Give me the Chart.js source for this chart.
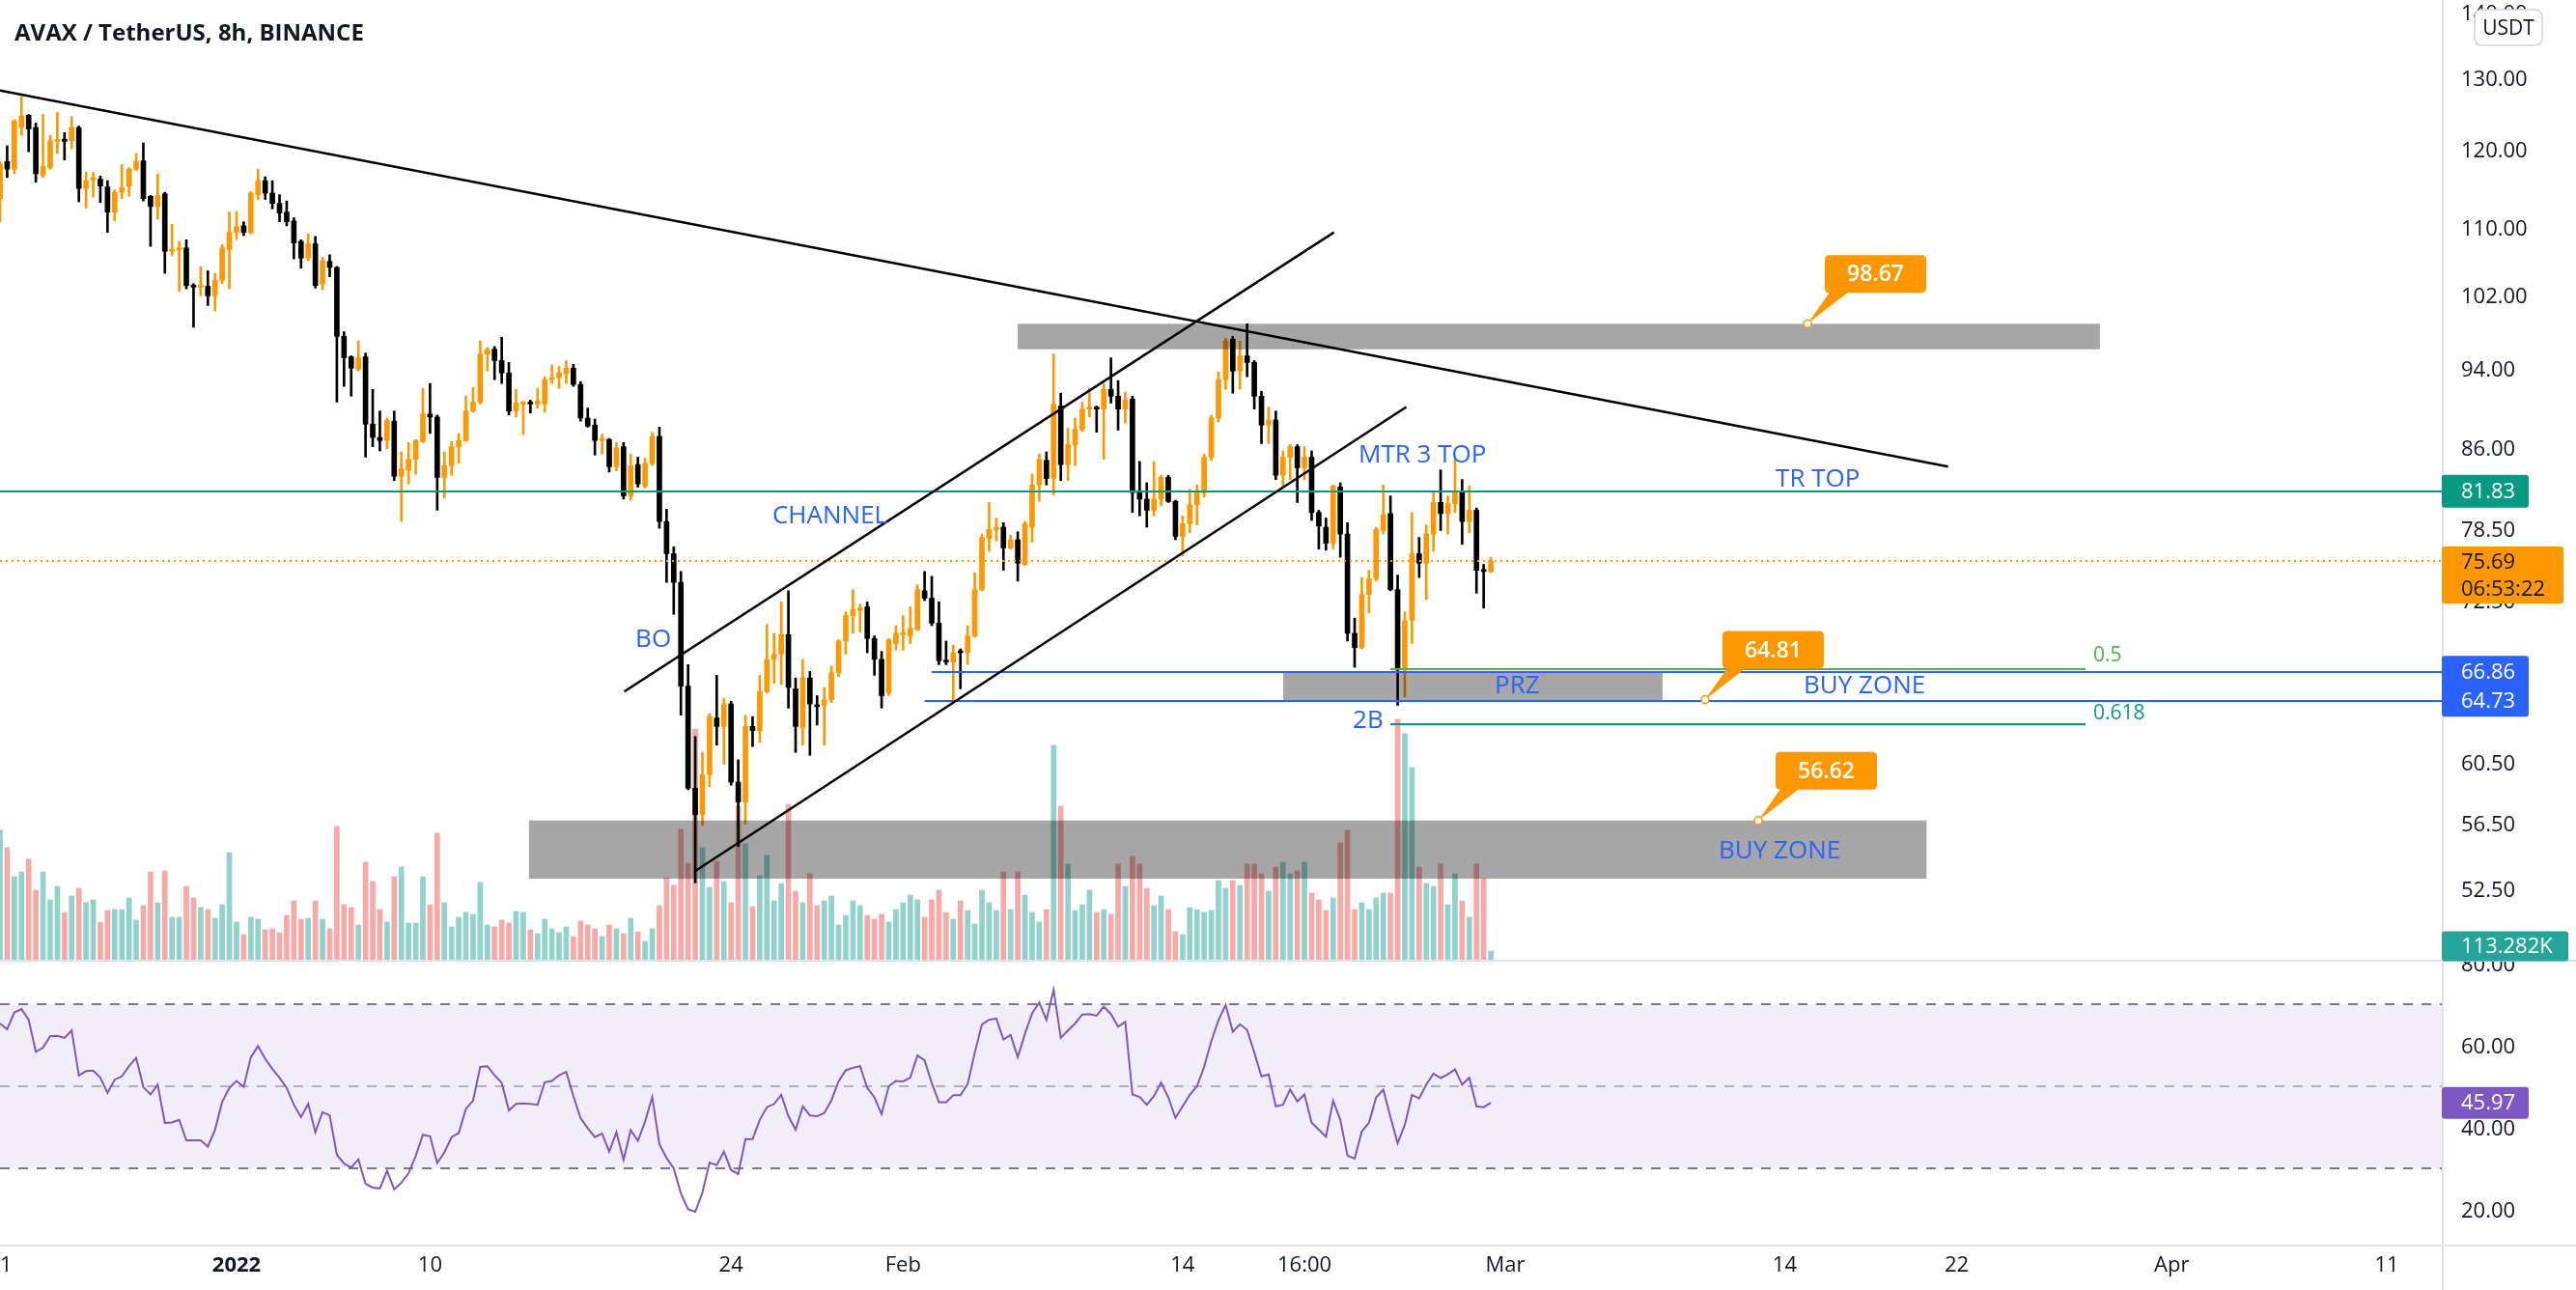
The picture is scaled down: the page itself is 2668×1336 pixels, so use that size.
<!DOCTYPE html>
<html>
<head>
<meta charset="utf-8">
<script src="https://cdn.jsdelivr.net/npm/chart.js@4.4.1/dist/chart.umd.min.js"></script>
<style>
html, body { margin: 0; padding: 0; background: #ffffff; }
canvas { display: block; }
</style>
</head>
<body>
<canvas id="chart" width="2668" height="1336"></canvas>
<script>
// AVAX/USDT 8h candles, first candle 21 Dec 2021 00:00 (x axis in days from 1 Jan 2022)
var firstCandleDay = -11;

var candleOpen = [
  113.4,118.3,117.3,122.9,124.6,122.9,116.5,117.5,121.0,121.3,
  121.1,122.9,114.8,115.9,116.0,115.0,111.8,114.3,115.1,117.3,
  118.4,113.8,112.5,114.1,107.0,107.2,107.4,103.0,102.8,102.9,
  101.8,103.6,107.2,109.3,110.1,109.3,114.0,115.8,114.2,112.9,
  111.8,110.7,108.2,106.2,107.9,103.2,105.8,105.1,97.3,95.1,
  93.8,95.1,88.2,86.9,86.6,88.5,83.2,83.8,84.8,86.5,
  89.2,88.9,83.1,84.2,86.0,86.6,89.5,90.4,95.4,95.9,
  94.7,93.4,89.5,90.2,90.4,90.2,90.2,92.7,92.9,93.3,
  93.9,92.2,88.8,88.1,86.6,86.7,84.1,86.0,81.4,84.3,
  82.3,84.4,87.0,79.1,76.3,73.9,65.8,58.7,57.0,59.6,
  63.5,62.9,64.5,59.1,57.8,62.9,62.6,65.4,67.8,68.2,
  69.7,65.6,62.8,66.4,64.4,64.4,64.8,66.8,69.2,71.2,
  71.6,71.9,69.4,67.8,65.3,69.0,69.7,69.6,70.1,73.2,
  72.6,70.6,67.7,67.6,68.4,68.3,69.6,73.3,77.6,78.4,
  78.6,76.8,77.5,75.4,78.6,82.4,84.7,83.0,90.0,84.3,
  86.2,87.7,89.7,89.9,89.7,91.7,91.0,89.7,90.7,81.7,
  81.1,80.1,81.1,83.1,80.9,77.8,78.9,80.6,81.7,85.0,
  88.8,92.7,97.0,93.6,95.2,94.5,91.0,88.1,88.6,83.3,
  85.0,86.0,84.0,85.0,79.9,78.6,77.2,82.2,78.0,69.8,
  68.7,72.9,74.2,78.3,79.8,73.3,67.0,70.8,76.3,75.5,
  78.0,80.8,79.8,80.7,81.7,79.1,80.1,74.9,74.8
];
var candleHigh = [
  118.3,120.4,124.0,127.2,124.7,123.5,124.7,121.8,125.0,122.2,
  124.4,123.1,116.9,116.9,116.4,115.8,114.6,117.9,117.5,119.4,
  120.8,113.9,116.7,114.3,110.3,108.2,108.4,103.2,105.2,104.7,
  104.4,107.8,111.8,111.9,110.6,114.4,117.3,116.3,115.8,114.0,
  113.2,111.1,108.4,109.1,108.8,106.3,106.6,105.2,97.8,95.2,
  96.8,95.5,91.7,89.5,88.8,89.5,85.5,86.4,86.7,91.8,
  92.3,89.1,85.5,86.5,87.3,91.0,91.9,96.8,96.1,96.2,
  97.2,94.5,91.7,90.5,90.6,91.8,93.0,94.2,94.1,94.7,
  94.3,92.5,89.8,88.7,87.2,86.8,86.4,86.4,85.3,85.0,
  84.9,87.4,87.9,80.2,76.9,74.8,67.4,62.2,61.1,63.8,
  66.6,64.9,64.7,60.6,63.7,63.6,66.6,70.5,69.8,72.3,
  73.2,66.4,67.8,66.9,65.1,65.7,67.3,69.3,71.5,73.3,
  72.1,72.3,69.6,68.4,69.4,70.4,71.2,71.9,73.7,74.8,
  74.4,72.3,69.2,68.9,68.6,70.4,74.7,78.0,80.8,79.4,
  79.0,77.9,78.2,79.1,83.4,85.3,85.5,95.4,91.3,87.8,
  88.8,90.4,91.8,90.0,92.3,95.0,92.6,91.4,91.0,84.6,
  82.6,84.6,83.3,83.3,81.0,79.6,82.0,82.4,85.3,89.1,
  93.5,97.1,97.3,96.8,98.67,94.7,91.5,89.9,89.5,85.6,
  86.2,86.2,86.0,85.6,80.1,79.4,82.4,82.6,79.0,71.0,
  74.3,74.9,78.6,82.4,81.4,74.5,71.5,79.9,77.7,78.8,
  81.8,83.8,81.4,84.8,82.9,82.3,80.3,75.4,76.0
];
var candleLow = [
  110.6,116.2,116.7,121.8,119.6,115.6,116.2,117.3,119.4,118.5,
  120.0,113.1,112.3,113.7,113.0,109.3,110.7,113.5,113.8,117.1,
  113.2,107.6,110.9,104.4,106.5,102.3,102.6,98.3,101.8,100.7,
  100.1,103.2,102.6,108.4,108.9,109.1,113.4,113.4,112.2,110.6,
  110.1,106.1,105.0,105.9,102.7,102.5,104.0,90.4,92.0,91.0,
  93.6,85.0,86.0,85.6,85.8,82.8,79.1,82.5,83.4,86.4,
  87.3,80.1,81.2,83.3,84.4,86.5,89.4,90.2,93.6,92.7,
  92.3,89.1,88.9,87.2,89.3,89.8,89.4,92.3,91.8,92.3,
  92.0,88.5,87.9,85.2,85.3,83.6,83.7,81.1,81.0,82.2,
  82.1,84.2,78.5,73.9,71.3,63.7,58.6,52.8,56.3,58.8,
  61.6,60.3,58.9,55.0,56.4,61.5,61.8,65.3,66.0,65.9,
  64.2,61.1,61.6,60.9,63.0,61.6,64.6,66.5,68.2,69.8,
  69.9,68.3,66.6,64.2,65.1,68.5,68.5,69.0,70.0,72.4,
  70.4,67.4,67.4,64.7,65.6,67.4,69.5,73.2,76.5,77.4,
  74.9,76.7,74.0,75.3,77.3,80.9,82.4,81.5,82.8,82.8,
  84.2,87.5,88.9,87.4,84.8,90.3,87.6,88.3,79.9,79.6,
  78.6,79.6,80.5,80.8,77.5,76.1,78.1,78.8,81.3,84.7,
  88.4,91.7,91.3,91.7,93.0,89.7,86.3,86.3,82.9,82.3,
  82.9,80.8,82.9,79.2,76.7,76.6,76.7,76.0,69.2,67.2,
  68.6,71.4,74.0,78.0,73.2,64.4,65.0,69.0,74.3,72.5,
  76.5,78.3,78.0,79.9,77.1,78.1,73.0,71.8,74.7
];
var candleClose = [
  118.0,117.3,123.8,124.5,122.7,116.7,117.7,121.1,121.2,121.0,
  122.9,114.8,115.8,116.2,115.1,111.8,114.3,114.9,117.3,118.3,
  113.5,112.5,113.9,107.0,107.2,107.4,103.0,102.8,103.0,101.8,
  103.6,107.4,109.3,110.0,109.3,114.2,115.8,114.2,112.9,111.7,
  110.6,108.0,106.2,107.9,103.0,105.9,105.1,97.3,95.0,93.9,
  95.0,88.2,86.9,86.6,88.6,83.2,83.9,84.8,86.6,89.2,
  88.9,83.1,84.2,86.0,86.6,89.5,90.4,95.4,95.9,94.7,
  93.4,89.5,90.3,90.3,90.2,90.5,92.7,92.9,93.4,93.9,
  92.2,88.8,88.0,86.6,86.7,84.1,85.9,81.4,84.2,82.5,
  84.4,87.0,79.1,76.3,73.9,65.8,58.7,57.0,59.6,63.6,
  62.9,64.5,59.1,57.8,62.9,62.6,65.4,67.8,68.2,69.7,
  65.7,62.9,66.4,64.5,64.3,64.8,66.8,69.2,71.2,71.7,
  71.8,69.4,67.8,65.1,69.3,69.8,69.8,70.2,73.3,72.6,
  70.6,67.7,67.6,68.3,68.3,69.6,73.3,77.7,78.4,78.6,
  76.8,77.5,75.5,78.9,82.4,84.8,83.0,90.2,84.3,86.2,
  87.7,89.7,89.9,89.7,91.7,91.0,89.7,90.6,81.7,81.1,
  80.1,81.1,83.1,80.9,77.8,78.9,80.6,81.7,85.0,88.8,
  92.7,96.8,93.6,95.2,94.5,91.0,88.1,88.6,83.3,85.0,
  86.0,84.0,85.0,79.9,78.7,77.2,82.3,78.0,69.8,68.7,
  72.9,74.2,78.4,79.7,73.3,67.0,70.8,76.3,75.5,78.0,
  80.8,79.8,80.7,81.7,79.1,80.1,74.9,74.8,75.69
];
// volume in thousands of AVAX
var volumeK = [
  1530,1326,986,1042,1190,827,1042,714,872,567,
  759,850,680,714,453,589,600,600,736,476,
  646,1042,680,1054,510,510,872,736,623,600,
  498,657,1269,453,306,510,487,363,374,329,
  532,702,487,498,702,487,374,1575,657,623,
  419,1156,929,600,453,986,1099,442,442,986,
  657,1496,680,397,510,567,544,918,419,397,
  476,442,578,567,363,317,487,374,329,397,
  283,465,419,374,283,419,374,317,498,340,
  227,374,646,974,884,1541,1144,2719,1326,861,
  1167,929,680,1813,1371,634,997,1235,702,906,
  1835,816,680,1020,646,702,759,419,532,702,
  646,532,487,544,453,600,680,770,714,510,
  714,827,567,487,702,589,431,827,680,589,
  1042,600,1042,770,567,453,600,2527,1813,1133,
  589,657,827,567,600,544,1133,872,1224,1133,
  850,646,759,600,340,306,623,600,567,589,
  940,850,940,884,1133,1133,1020,816,1099,1156,
  1020,1054,1156,793,714,589,736,1382,1530,600,
  680,600,736,793,793,2833,2663,2266,1099,906,
  872,1133,657,1020,702,510,1133,963,113.282
];
var rsiValues = [
  65.3,63.9,68.0,68.8,66.2,58.4,59.4,62.2,62.3,61.8,
  63.6,52.6,53.7,53.8,52.1,48.4,51.6,52.4,54.9,56.9,
  49.8,48.0,50.4,41.1,41.2,41.8,36.8,36.8,36.8,35.3,
  39.4,46.2,49.6,51.3,49.9,57.1,59.8,56.7,54.2,52.1,
  49.6,45.5,42.5,45.7,38.8,43.7,42.9,33.3,31.2,30.2,
  32.2,26.2,25.3,25.1,29.4,24.9,26.5,28.8,33.0,38.2,
  37.8,31.3,33.9,37.6,38.6,44.5,46.5,54.7,54.9,52.7,
  50.8,44.1,45.7,45.8,45.7,45.5,51.0,51.3,52.7,53.5,
  47.6,42.2,39.8,37.6,38.5,34.1,38.8,32.1,39.3,36.7,
  41.4,47.4,35.9,32.5,30.0,23.9,20.0,19.4,24.1,31.4,
  30.8,34.1,29.6,28.6,37.1,37.1,41.8,44.9,45.7,47.9,
  42.7,39.4,45.1,42.9,42.7,43.5,46.6,51.2,53.9,54.5,
  54.9,49.6,47.3,43.2,50.0,51.3,51.2,52.1,57.5,56.3,
  50.8,46.1,46.1,47.8,47.8,50.5,58.2,65.1,66.2,66.5,
  61.4,62.5,57.1,62.8,67.8,70.4,66.2,73.5,61.8,63.6,
  65.3,67.5,67.6,67.2,69.4,67.6,64.5,65.7,48.0,47.4,
  45.5,47.6,50.9,47.3,42.3,45.1,47.9,50.0,54.7,61.0,
  66.1,69.8,63.3,65.1,63.7,58.2,52.4,52.9,45.1,45.5,
  49.2,46.3,48.0,41.1,39.4,37.7,46.5,41.8,33.1,32.4,
  39.0,41.1,47.3,49.2,42.5,36.1,40.6,47.9,47.0,50.4,
  53.1,52.0,52.9,54.1,50.4,52.1,45.1,44.9,45.97
];

var timeTickDays = [-11, 0, 9, 23, 31, 44, 49.667, 59, 72, 80, 90, 100];
var timeTickLabels = ['21', '2022', '10', '24', 'Feb', '14', '16:00', 'Mar', '14', '22', 'Apr', '11'];
var priceTicks = [52.5, 56.5, 60.5, 72.5, 78.5, 86, 94, 102, 110, 120, 130, 140];
var rsiTicks = [20, 40, 60, 80];

var FONT = '"Open Sans", "Noto Sans", sans-serif';
Chart.defaults.font.family = FONT;
Chart.defaults.color = '#131722';

var bodyData = [], wickData = [], volData = [], rsiData = [], candleColors = [], volColors = [];
for (var i = 0; i < candleClose.length; i++) {
  var t = firstCandleDay + i / 3;
  var rising = candleClose[i] >= candleOpen[i];
  bodyData.push({x: t, y: [candleOpen[i], candleClose[i]]});
  wickData.push({x: t, y: [candleLow[i], candleHigh[i]]});
  volData.push({x: t, y: volumeK[i]});
  rsiData.push({x: t, y: rsiValues[i]});
  candleColors.push(rising ? '#ff9800' : '#000000');
  volColors.push(rising ? 'rgba(38,166,154,0.5)' : 'rgba(239,83,80,0.5)');
}

// drawings made on the chart (days from 1 Jan 2022, price)
var trendLines = [
  {from: [-11, 128.1], to: [79.6, 84.1]},
  {from: [18.03, 65.4], to: [51.04, 109.3]},
  {from: [21.32, 53.5], to: [54.40, 89.9]}
];
var zones = [
  {from: 36.33, to: 86.66, top: 98.67, bottom: 95.9},
  {from: 13.6, to: 78.6, top: 56.62, bottom: 53.05},
  {from: 48.68, to: 66.32, top: 66.86, bottom: 64.73}
];
var levels = [
  {price: 81.83, from: -11, color: '#089981', width: 2},
  {price: 75.69, from: -11, color: '#ff9800', width: 2, dash: [2, 4]},
  {price: 66.86, from: 32.33, color: '#2962ff', width: 2},
  {price: 64.73, from: 32.0, color: '#2962ff', width: 2},
  {price: 67.05, from: 53.66, to: 86.0, color: '#4caf50', width: 2},
  {price: 63.06, from: 53.66, to: 86.0, color: '#089981', width: 2}
];
var notes = [
  {day: 24.92, price: 79.6, text: 'CHANNEL'},
  {day: 18.55, price: 69.3, text: 'BO'},
  {day: 52.18, price: 85.2, text: 'MTR 3 TOP'},
  {day: 71.58, price: 82.9, text: 'TR TOP'},
  {day: 58.51, price: 65.8, text: 'PRZ'},
  {day: 72.88, price: 65.8, text: 'BUY ZONE'},
  {day: 51.91, price: 63.3, text: '2B'},
  {day: 68.93, price: 54.7, text: 'BUY ZONE'},
  {day: 86.35, price: 68.1, text: '0.5', color: '#4caf50', size: 21},
  {day: 86.35, price: 63.8, text: '0.618', color: '#089981', size: 21}
];
var callouts = [
  {day: 73.06, price: 98.67, text: '98.67'},
  {day: 68.3, price: 64.81, text: '64.81'},
  {day: 70.77, price: 56.62, text: '56.62'}
];

function roundRect(ctx, x, y, w, h, r) {
  ctx.beginPath();
  ctx.moveTo(x + r, y);
  ctx.lineTo(x + w - r, y);
  ctx.quadraticCurveTo(x + w, y, x + w, y + r);
  ctx.lineTo(x + w, y + h - r);
  ctx.quadraticCurveTo(x + w, y + h, x + w - r, y + h);
  ctx.lineTo(x + r, y + h);
  ctx.quadraticCurveTo(x, y + h, x, y + h - r);
  ctx.lineTo(x, y + r);
  ctx.quadraticCurveTo(x, y, x + r, y);
  ctx.closePath();
}

var rsiPanePlugin = {
  id: 'rsiPane',
  beforeDatasetsDraw: function(chart) {
    var ctx = chart.ctx, a = chart.chartArea, yr = chart.scales.yr;
    ctx.save();
    ctx.fillStyle = 'rgba(126,87,194,0.1)';
    ctx.fillRect(a.left, yr.getPixelForValue(70), a.right - a.left, yr.getPixelForValue(30) - yr.getPixelForValue(70));
    ctx.lineWidth = 2;
    ctx.setLineDash([10, 9]);
    [[70, '#787b86'], [50, 'rgba(120,123,134,0.55)'], [30, '#787b86']].forEach(function(b) {
      var y = Math.round(yr.getPixelForValue(b[0]));
      ctx.strokeStyle = b[1];
      ctx.beginPath();
      ctx.moveTo(a.left, y);
      ctx.lineTo(a.right, y);
      ctx.stroke();
    });
    ctx.restore();
  }
};

var drawingsPlugin = {
  id: 'drawings',
  afterDatasetsDraw: function(chart) {
    var ctx = chart.ctx, a = chart.chartArea, xs = chart.scales.x, ys = chart.scales.y;
    function X(d) { return xs.getPixelForValue(d); }
    function Y(p) { return ys.getPixelForValue(p); }
    ctx.save();
    ctx.beginPath();
    ctx.rect(a.left, a.top, a.right - a.left, ys.bottom - a.top);
    ctx.clip();

    zones.forEach(function(z) {
      ctx.fillStyle = 'rgba(0,0,0,0.35)';
      ctx.fillRect(X(z.from), Y(z.top), X(z.to) - X(z.from), Y(z.bottom) - Y(z.top));
    });

    levels.forEach(function(l) {
      var y = Math.round(Y(l.price));
      ctx.strokeStyle = l.color;
      ctx.lineWidth = l.width;
      ctx.setLineDash(l.dash || []);
      ctx.beginPath();
      ctx.moveTo(X(l.from), y);
      ctx.lineTo(l.to === undefined ? a.right : X(l.to), y);
      ctx.stroke();
    });
    ctx.setLineDash([]);

    ctx.strokeStyle = '#000000';
    ctx.lineWidth = 2.5;
    trendLines.forEach(function(t) {
      ctx.beginPath();
      ctx.moveTo(X(t.from[0]), Y(t.from[1]));
      ctx.lineTo(X(t.to[0]), Y(t.to[1]));
      ctx.stroke();
    });

    ctx.textAlign = 'left';
    ctx.textBaseline = 'middle';
    notes.forEach(function(n) {
      ctx.fillStyle = n.color || '#2962ff';
      ctx.font = (n.size || 26) + 'px ' + FONT;
      ctx.fillText(n.text, X(n.day), Y(n.price));
    });

    callouts.forEach(function(c) {
      var tx = X(c.day), ty = Y(c.price);
      var bx = tx + 18, by = ty - 71, bw = 105, bh = 39;
      ctx.fillStyle = '#ff9800';
      ctx.beginPath();
      ctx.moveTo(bx + 6, by + bh - 2);
      ctx.lineTo(tx, ty);
      ctx.lineTo(bx + 26, by + bh - 2);
      ctx.closePath();
      ctx.fill();
      roundRect(ctx, bx, by, bw, bh, 5);
      ctx.fill();
      ctx.fillStyle = '#ffffff';
      ctx.font = '600 23px ' + FONT;
      ctx.textAlign = 'center';
      ctx.fillText(c.text, bx + bw / 2, by + bh / 2 + 1);
      ctx.beginPath();
      ctx.arc(tx, ty, 4, 0, Math.PI * 2);
      ctx.fillStyle = '#ffffff';
      ctx.fill();
      ctx.strokeStyle = '#ff9800';
      ctx.lineWidth = 1.5;
      ctx.stroke();
      ctx.textAlign = 'left';
    });
    ctx.restore();
  }
};

var framePlugin = {
  id: 'frame',
  afterDraw: function(chart) {
    var ctx = chart.ctx, a = chart.chartArea, ys = chart.scales.y, yr = chart.scales.yr, yv = chart.scales.yv;
    var W = chart.width, H = chart.height;
    ctx.save();
    ctx.strokeStyle = '#e0e3eb';
    ctx.lineWidth = 2;
    ctx.beginPath();
    ctx.moveTo(0, Math.round(ys.bottom)); ctx.lineTo(W, Math.round(ys.bottom));
    ctx.moveTo(0, Math.round(a.bottom)); ctx.lineTo(W, Math.round(a.bottom));
    ctx.moveTo(Math.round(a.right) + 1, 0); ctx.lineTo(Math.round(a.right) + 1, H);
    ctx.stroke();

    function badge(cy, w, h, fill, color, lines) {
      var top = cy - h / 2;
      ctx.fillStyle = fill;
      roundRect(ctx, a.right, top, w, h, 3);
      ctx.fill();
      ctx.fillStyle = color;
      ctx.font = '22px ' + FONT;
      ctx.textAlign = 'left';
      ctx.textBaseline = 'middle';
      lines.forEach(function(s, k) { ctx.fillText(s, a.right + 20, top + h / 2 + 1 + k * 28); });
    }
    badge(ys.getPixelForValue(81.83), 90, 34, '#089981', '#ffffff', ['81.83']);
    // last price with the countdown of the open candle
    var lp = ys.getPixelForValue(75.69);
    ctx.fillStyle = '#ff9800';
    roundRect(ctx, a.right, lp - 15, 126, 59, 3);
    ctx.fill();
    ctx.fillStyle = '#131722';
    ctx.font = '22px ' + FONT;
    ctx.textAlign = 'left';
    ctx.textBaseline = 'middle';
    ctx.fillText('75.69', a.right + 20, lp + 2);
    ctx.fillText('06:53:22', a.right + 20, lp + 30);

    badge(ys.getPixelForValue(66.86), 90, 33, '#2962ff', '#ffffff', ['66.86']);
    badge(ys.getPixelForValue(64.73), 90, 33, '#2962ff', '#ffffff', ['64.73']);
    badge(Math.min(yv.getPixelForValue(113.282), ys.bottom - 15), 131, 31, '#26a69a', '#ffffff', ['113.282K']);
    badge(yr.getPixelForValue(45.97), 90, 33, '#7e57c2', '#ffffff', ['45.97']);

    // currency badge
    ctx.fillStyle = '#ffffff';
    roundRect(ctx, a.right + 34, 10, 70, 37, 8);
    ctx.fill();
    ctx.strokeStyle = '#d1d4dc';
    ctx.lineWidth = 1.5;
    ctx.stroke();
    ctx.fillStyle = '#131722';
    ctx.font = '21px ' + FONT;
    ctx.textAlign = 'center';
    ctx.fillText('USDT', a.right + 69, 30);

    ctx.textAlign = 'left';
    ctx.textBaseline = 'alphabetic';
    ctx.font = 'bold 24px ' + FONT;
    ctx.fillText('AVAX / TetherUS, 8h, BINANCE', 15, 42);
    ctx.restore();
  }
};

function noPad(s) { s.paddingLeft = 0; s.paddingRight = 0; s.paddingTop = 0; s.paddingBottom = 0; }

new Chart(document.getElementById('chart'), {
  type: 'bar',
  data: {
    datasets: [
      {type: 'line', label: 'RSI', data: rsiData, xAxisID: 'x', yAxisID: 'yr', borderColor: '#7e57c2', borderWidth: 2,
       pointRadius: 0, fill: false, tension: 0, order: 0},
      {label: 'Body', data: bodyData, yAxisID: 'y', backgroundColor: candleColors, barThickness: 5, minBarLength: 2,
       grouped: false, borderWidth: 0, order: 1},
      {label: 'Wick', data: wickData, yAxisID: 'y', backgroundColor: candleColors, barThickness: 2,
       grouped: false, borderWidth: 0, order: 2},
      {label: 'Volume', data: volData, yAxisID: 'yv', backgroundColor: volColors, barThickness: 5,
       grouped: false, borderWidth: 0, order: 3}
    ]
  },
  options: {
    responsive: false,
    animation: false,
    devicePixelRatio: 1,
    layout: {padding: 0},
    plugins: {legend: {display: false}, tooltip: {enabled: false}},
    scales: {
      x: {
        type: 'linear', position: 'bottom', min: -11, max: 102.56, offset: false,
        grid: {display: false, drawTicks: false},
        border: {display: false},
        ticks: {
          autoSkip: false, maxRotation: 0, minRotation: 0, padding: 8, color: '#131722',
          font: function(c) { return {family: FONT, size: 22, weight: timeTickLabels[c.index] === '2022' ? 'bold' : 'normal'}; },
          callback: function(v, idx) { return timeTickLabels[idx]; }
        },
        afterBuildTicks: function(s) { s.ticks = timeTickDays.map(function(d) { return {value: d}; }); },
        afterFit: function(s) { s.height = 46; noPad(s); }
      },
      y: {
        type: 'logarithmic', position: 'right', stack: 'panes', stackWeight: 995, min: 48.4, max: 141.73,
        grid: {display: false, drawTicks: false},
        border: {display: false},
        ticks: {autoSkip: false, padding: 20, labelOffset: 3, color: '#131722', font: {size: 22},
          callback: function(v) { return Number(v).toFixed(2); }},
        afterBuildTicks: function(s) { s.ticks = priceTicks.map(function(p) { return {value: p}; }); },
        afterFit: function(s) { s.width = 139; noPad(s); }
      },
      yr: {
        type: 'linear', position: 'right', stack: 'panes', stackWeight: 295, min: 11.18, max: 80.59,
        grid: {display: false, drawTicks: false},
        border: {display: false},
        ticks: {autoSkip: false, padding: 20, labelOffset: 2, color: '#131722', font: {size: 22},
          callback: function(v) { return Number(v).toFixed(2); }},
        afterBuildTicks: function(s) { s.ticks = rsiTicks.map(function(r) { return {value: r}; }); },
        afterFit: function(s) { s.width = 139; noPad(s); }
      },
      yv: {type: 'linear', display: false, min: -3343, max: 11273}
    }
  },
  plugins: [rsiPanePlugin, drawingsPlugin, framePlugin]
});
</script>
</body>
</html>
